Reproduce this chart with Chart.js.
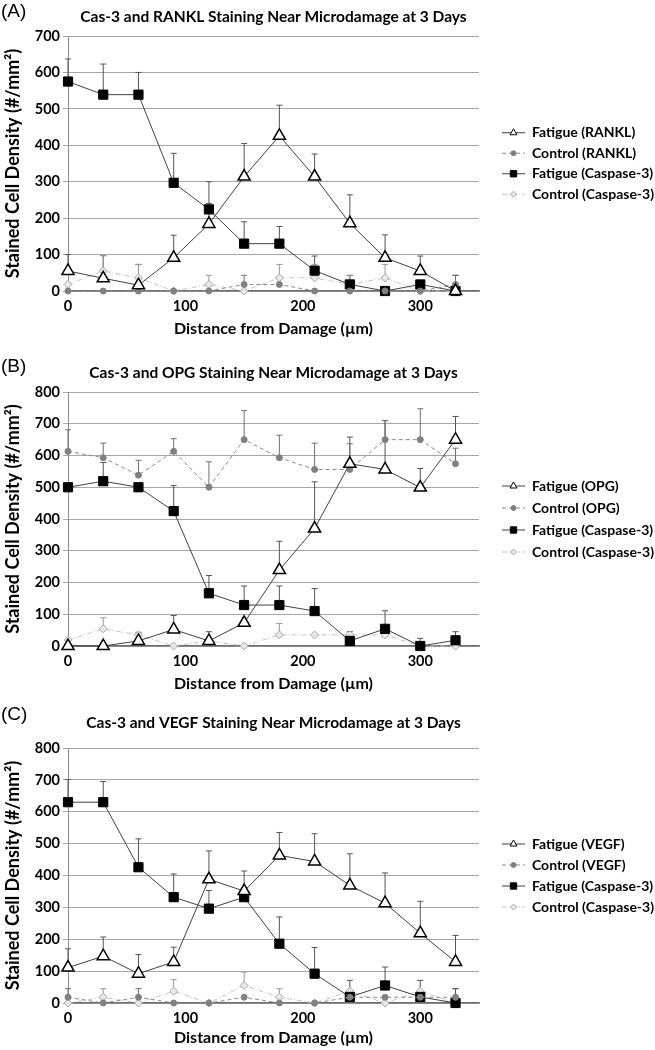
<!DOCTYPE html>
<html>
<head>
<meta charset="utf-8">
<script src="https://cdn.jsdelivr.net/npm/chart.js@4.4.1/dist/chart.umd.min.js"></script>
<style>
  body { margin: 0; background: #fff; width: 655px; height: 1050px; overflow: hidden; position: relative; }
  canvas { position: absolute; left: 0; }
</style>
</head>
<body>
<canvas id="panelA" width="655" height="345" style="top:0px"></canvas>
<canvas id="panelB" width="655" height="355" style="top:345px"></canvas>
<canvas id="panelC" width="655" height="350" style="top:700px"></canvas>
<script>
// DATA

const distance = [0, 30, 60, 90, 120, 150, 180, 210, 240, 270, 300, 330];
const xTicks = [0, 100, 200, 300];
const yTicksA = [0, 100, 200, 300, 400, 500, 600, 700];
const yTicksBC = [0, 100, 200, 300, 400, 500, 600, 700, 800];

// (A) RANKL
const fatigueRankl    = [55, 35, 16, 91, 184, 314, 426, 314, 186, 91, 55, 0];
const fatigueRanklErr = [45, 62, 57, 62, 56, 91, 84, 62, 78, 63, 41, 43];
const controlRankl    = [0, 0, 0, 0, 0, 18, 18, 0, 0, 0, 0, 18];
const controlRanklErr = [0, 0, 0, 0, 0, 25, 0, 0, 0, 0, 0, 25];
const fatigueCasA     = [575, 539, 539, 297, 224, 130, 130, 56, 18, 0, 18, 0];
const fatigueCasAErr  = [62, 84, 61, 81, 76, 60, 47, 40, 25, 0, 0, 0];
const controlCasA     = [18, 55, 36, 0, 18, 0, 36, 36, 18, 36, 0, 0];
const controlCasAErr  = [0, 42, 37, 0, 25, 0, 37, 37, 25, 37, 0, 0];

// (B) OPG
const fatigueOpg      = [0, 0, 16, 52, 16, 73, 239, 370, 574, 556, 499, 650];
const fatigueOpgErr   = [0, 0, 27, 44, 29, 0, 91, 147, 84, 154, 60, 73];
const controlOpg      = [613, 593, 538, 613, 500, 650, 593, 556, 556, 650, 650, 574];
const controlOpgErr   = [68, 46, 47, 40, 80, 92, 71, 83, 81, 60, 97, 49];
const fatigueCasB     = [500, 519, 500, 425, 166, 129, 129, 110, 16, 54, 0, 18];
const fatigueCasBErr  = [0, 59, 0, 80, 56, 60, 60, 71, 29, 57, 24, 27];
const controlCasB     = [19, 54, 35, 0, 16, 0, 35, 35, 35, 35, 0, 0];
const controlCasBErr  = [0, 35, 0, 0, 0, 0, 36, 0, 0, 0, 0, 0];

// (C) VEGF
const fatigueVegf     = [111, 147, 92, 129, 388, 351, 463, 444, 369, 313, 219, 129];
const fatigueVegfErr  = [59, 60, 60, 46, 89, 63, 72, 87, 99, 95, 100, 83];
const controlVegf     = [18, 0, 18, 0, 0, 18, 0, 0, 18, 18, 18, 18];
const controlVegfErr  = [27, 0, 27, 0, 0, 0, 0, 0, 0, 0, 0, 27];
const fatigueCasC     = [630, 630, 426, 332, 296, 332, 186, 92, 19, 55, 19, 0];
const fatigueCasCErr  = [71, 65, 89, 73, 57, 0, 84, 82, 52, 58, 52, 45];
const controlCasC     = [0, 18, 0, 37, 0, 55, 18, 0, 37, 0, 37, 0];
const controlCasCErr  = [0, 27, 0, 36, 0, 42, 27, 0, 0, 0, 0, 0];

// STYLES

const fatigueStyle = {
  borderColor: '#404040', borderWidth: 1, pointStyle: 'triangle', pointRadius: 7,
  pointBackgroundColor: '#fff', pointBorderColor: '#000', pointBorderWidth: 1.5,
  errColor: '#555', legendRadius: 4
};
const controlStyle = {
  borderColor: '#8a8a8a', borderWidth: 1, borderDash: [4, 3], pointStyle: 'circle', pointRadius: 3,
  pointBackgroundColor: '#808080', pointBorderColor: '#808080', pointBorderWidth: 1,
  errColor: '#707070', legendRadius: 2.5
};
const fatigueCasStyle = {
  borderColor: '#404040', borderWidth: 1, pointStyle: 'rect', pointRadius: 6.5,
  pointBackgroundColor: '#000', pointBorderColor: '#000', pointBorderWidth: 1,
  errColor: '#555', legendRadius: 4.5
};
const controlCasStyle = {
  borderColor: '#c4c4c4', borderWidth: 1, borderDash: [5, 2, 1, 2], pointStyle: 'rectRot', pointRadius: 4,
  pointBackgroundColor: '#e8e8e8', pointBorderColor: '#a8a8a8', pointBorderWidth: 1,
  errColor: '#9a9a9a', legendRadius: 3
};

const FONT = 'Lato, "Open Sans", sans-serif';

// pick a font size so a text has the width it has in the figure
const measureCtx = document.createElement('canvas').getContext('2d');
function fitSize(text, width) {
  measureCtx.font = 'bold 20px ' + FONT;
  return Math.round(20 * width / measureCtx.measureText(text).width * 2) / 2;
}
const TITLE_SIZE  = fitSize('Cas-3 and RANKL Staining Near Microdamage at 3 Days', 388);
const XTITLE_SIZE = fitSize('Distance from Damage (µm)', 197);
const YTITLE_SIZE = fitSize('Stained Cell Density (#/mm²)', 227);
const LEGEND_SIZE = fitSize('Fatigue (Caspase-3)', 120);
const TICK_SIZE   = fitSize('700', 25);

function series(label, values, errs, style) {
  return Object.assign({
    label: label,
    data: distance.map((d, i) => ({ x: d, y: values[i] })),
    err: errs,
    showLine: true,
    fill: false,
    tension: 0,
    clip: false
  }, style, { pointHoverRadius: style.pointRadius });
}

function drawMarker(ctx, ds, x, y) {
  ctx.save();
  ctx.fillStyle = ds.pointBackgroundColor;
  ctx.strokeStyle = ds.pointBorderColor;
  ctx.lineWidth = 1;
  ctx.setLineDash([]);
  Chart.helpers.drawPoint(ctx, { pointStyle: ds.pointStyle, radius: ds.legendRadius, rotation: 0, borderWidth: 1 }, x, y);
  ctx.restore();
}

// error bars, title, panel letter and legend
const decorPlugin = {
  id: 'decor',
  beforeDatasetsDraw(chart) {
    const ctx = chart.ctx, yScale = chart.scales.y;
    chart.data.datasets.forEach((ds, i) => {
      const meta = chart.getDatasetMeta(i);
      ctx.save();
      ctx.strokeStyle = ds.errColor;
      ctx.lineWidth = 1;
      meta.data.forEach((pt, j) => {
        const e = ds.err[j];
        if (!e) return;
        const top = yScale.getPixelForValue(ds.data[j].y + e);
        ctx.beginPath();
        ctx.moveTo(pt.x, pt.y);
        ctx.lineTo(pt.x, top);
        ctx.moveTo(pt.x - 3, top);
        ctx.lineTo(pt.x + 3, top);
        ctx.stroke();
      });
      ctx.restore();
    });
  },
  afterDraw(chart, args, opts) {
    const ctx = chart.ctx, area = chart.chartArea;
    ctx.save();
    ctx.fillStyle = '#000';
    ctx.textBaseline = 'middle';
    ctx.textAlign = 'left';
    ctx.font = '19px "Liberation Sans", Arial, sans-serif';
    ctx.fillText(opts.letter, 1, opts.letterY);
    ctx.textAlign = 'center';
    ctx.font = 'bold ' + TITLE_SIZE + 'px ' + FONT;
    ctx.fillText(opts.title, (area.left + area.right) / 2, opts.titleY);

    const n = chart.data.datasets.length;
    const cy = (area.top + area.bottom) / 2;
    ctx.textAlign = 'left';
    ctx.font = 'bold ' + LEGEND_SIZE + 'px ' + FONT;
    chart.data.datasets.forEach((ds, i) => {
      const ly = cy + (i - (n - 1) / 2) * opts.legendGap;
      ctx.strokeStyle = ds.borderColor;
      ctx.lineWidth = 1;
      ctx.setLineDash(ds.borderDash || []);
      ctx.beginPath();
      ctx.moveTo(502, ly);
      ctx.lineTo(525, ly);
      ctx.stroke();
      ctx.setLineDash([]);
      drawMarker(ctx, ds, 513.5, ly);
      ctx.fillStyle = '#000';
      ctx.fillText(ds.label, 532, ly);
    });
    ctx.restore();
  }
};

function panelOptions(yTicks, p) {
  const tickFont = { family: FONT, size: TICK_SIZE, weight: 'bold' };
  return {
    responsive: false,
    animation: false,
    devicePixelRatio: 1,
    layout: { padding: { left: 0, right: 176, top: p.top, bottom: 0 } },
    plugins: {
      legend: { display: false },
      tooltip: { enabled: false },
      decor: { letter: p.letter, letterY: p.letterY, title: p.title, titleY: p.titleY, legendGap: p.legendGap }
    },
    scales: {
      x: {
        type: 'linear', min: 0, max: 350,
        afterBuildTicks: s => { s.ticks = xTicks.map(v => ({ value: v })); },
        afterFit: s => { s.height = p.xHeight; },
        grid: { display: false, drawTicks: false },
        border: { color: '#6e6e6e', width: 1.5 },
        ticks: { font: tickFont, color: '#000', padding: 7, maxRotation: 0 },
        title: {
          display: true, text: 'Distance from Damage (µm)', color: '#000',
          font: { family: FONT, size: XTITLE_SIZE, weight: 'bold' },
          padding: { top: 0, bottom: p.xTitlePad }
        }
      },
      y: {
        type: 'linear', min: 0, max: yTicks[yTicks.length - 1],
        afterBuildTicks: s => { s.ticks = yTicks.map(v => ({ value: v })); },
        afterFit: s => { s.width = 68; },
        grid: { color: '#a6a6a6', lineWidth: 1, drawTicks: true, tickLength: 5 },
        border: { color: '#8c8c8c', width: 1 },
        ticks: { font: tickFont, color: '#000', padding: 3 },
        title: {
          display: true, text: 'Stained Cell Density (#/mm²)', color: '#000',
          font: { family: FONT, size: YTITLE_SIZE, weight: 'bold' },
          padding: { top: 2, bottom: 0 }
        }
      }
    }
  };
}

// (A)
new Chart(document.getElementById('panelA'), {
  type: 'scatter',
  data: {
    datasets: [
      series('Fatigue (RANKL)', fatigueRankl, fatigueRanklErr, fatigueStyle),
      series('Control (RANKL)', controlRankl, controlRanklErr, controlStyle),
      series('Fatigue (Caspase-3)', fatigueCasA, fatigueCasAErr, fatigueCasStyle),
      series('Control (Caspase-3)', controlCasA, controlCasAErr, controlCasStyle)
    ]
  },
  options: panelOptions(yTicksA, {
    letter: '(A)', letterY: 12, title: 'Cas-3 and RANKL Staining Near Microdamage at 3 Days', titleY: 17,
    top: 36, xHeight: 54, xTitlePad: 7, legendGap: 20.5
  }),
  plugins: [decorPlugin]
});

// (B)
new Chart(document.getElementById('panelB'), {
  type: 'scatter',
  data: {
    datasets: [
      series('Fatigue (OPG)', fatigueOpg, fatigueOpgErr, fatigueStyle),
      series('Control (OPG)', controlOpg, controlOpgErr, controlStyle),
      series('Fatigue (Caspase-3)', fatigueCasB, fatigueCasBErr, fatigueCasStyle),
      series('Control (Caspase-3)', controlCasB, controlCasBErr, controlCasStyle)
    ]
  },
  options: panelOptions(yTicksBC, {
    letter: '(B)', letterY: 22, title: 'Cas-3 and OPG Staining Near Microdamage at 3 Days', titleY: 28,
    top: 47, xHeight: 54, xTitlePad: 7, legendGap: 22
  }),
  plugins: [decorPlugin]
});

// (C)
new Chart(document.getElementById('panelC'), {
  type: 'scatter',
  data: {
    datasets: [
      series('Fatigue (VEGF)', fatigueVegf, fatigueVegfErr, fatigueStyle),
      series('Control (VEGF)', controlVegf, controlVegfErr, controlStyle),
      series('Fatigue (Caspase-3)', fatigueCasC, fatigueCasCErr, fatigueCasStyle),
      series('Control (Caspase-3)', controlCasC, controlCasCErr, controlCasStyle)
    ]
  },
  options: panelOptions(yTicksBC, {
    letter: '(C)', letterY: 15, title: 'Cas-3 and VEGF Staining Near Microdamage at 3 Days', titleY: 23,
    top: 48, xHeight: 47, xTitlePad: 3, legendGap: 21
  }),
  plugins: [decorPlugin]
});
</script>
</body>
</html>
